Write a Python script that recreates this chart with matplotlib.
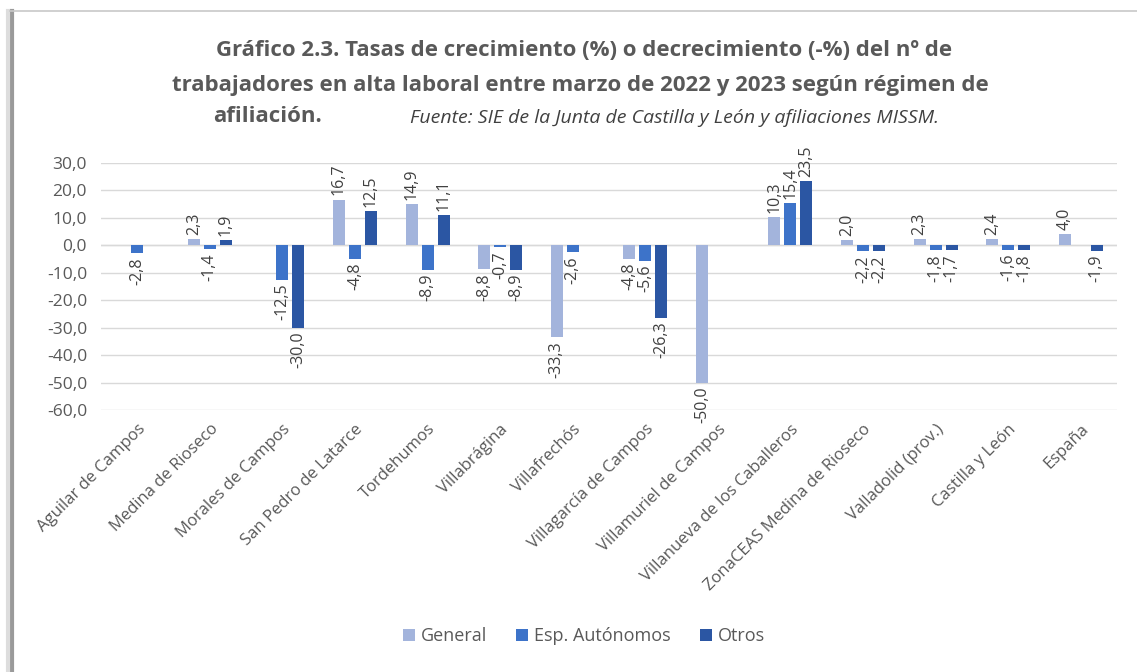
import numpy as np
import matplotlib
matplotlib.use("Agg")
import matplotlib.pyplot as plt
from matplotlib.lines import Line2D
from matplotlib.patches import Patch

categories = ["Aguilar de Campos", "Medina de Rioseco", "Morales de Campos",
              "San Pedro de Latarce", "Tordehumos", "Villabrágina", "Villafrechós",
              "Villagarcía de Campos", "Villamuriel de Campos",
              "Villanueva de los Caballeros", "ZonaCEAS Medina de Rioseco",
              "Valladolid (prov.)", "Castilla y León", "España"]
general = [np.nan, 2.3, np.nan, 16.7, 14.9, -8.8, -33.3, -4.8, -50.0, 10.3, 2.0, 2.3, 2.4, 4.0]
autonomos = [-2.8, -1.4, -12.5, -4.8, -8.9, -0.7, -2.6, -5.6, np.nan, 15.4, -2.2, -1.8, -1.6, np.nan]
otros = [np.nan, 1.9, -30.0, 12.5, 11.1, -8.9, np.nan, -26.3, np.nan, 23.5, -2.2, -1.7, -1.8, -1.9]
series_names = ["General", "Esp. Autónomos", "Otros"]
yticks = [30, 20, 10, 0, -10, -20, -30, -40, -50, -60]

colors = ["#A3B4DC", "#3D73C9", "#2B56A3"]
plt.rcParams['font.family'] = ['Open Sans', 'DejaVu Sans']

W, H = 1137, 672
fig = plt.figure(figsize=(W / 100, H / 100), dpi=100)
fig.patch.set_facecolor("white")

# frame / shadow
fig.add_artist(Line2D([11.5 / W, 11.5 / W], [0, 1 - 11 / H], color="#9a9a9a", lw=3.0))
fig.add_artist(Line2D([7.5 / W, 7.5 / W], [0, 1 - 11 / H], color="#dddddd", lw=3.0))
fig.add_artist(Line2D([10 / W, 1], [1 - 11 / H, 1 - 11 / H], color="#c8c8c8", lw=1.2))

ax = fig.add_axes([101 / W, 1 - 410 / H, 1016 / W, 247 / H])
x = np.arange(len(categories))
off = 0.22
bw = 0.165
data = [general, autonomos, otros]
for i, (vals, c) in enumerate(zip(data, colors)):
    xs = x + (i - 1) * off
    ax.bar(xs, vals, width=bw, color=c, zorder=3)
    for xi, v in zip(xs, vals):
        if np.isnan(v):
            continue
        s = f"{v:.1f}".replace(".", ",")
        if v >= 0:
            ax.annotate(s, (xi, v), xytext=(0, 3), textcoords="offset points",
                        rotation=90, ha="center", va="bottom", fontsize=11.5,
                        color="#404040", annotation_clip=False)
        else:
            ax.annotate(s, (xi, v), xytext=(0, -3), textcoords="offset points",
                        rotation=90, ha="center", va="top", fontsize=11.5,
                        color="#404040", annotation_clip=False)

ax.set_xlim(-0.5, len(categories) - 0.5)
ax.set_ylim(-60, 30)
ax.set_yticks(yticks)
ax.set_yticklabels([f"{t:.1f}".replace(".", ",") for t in yticks], fontsize=12.5, color="#595959")
ax.yaxis.grid(True, color="#d9d9d9", lw=1.0, zorder=0)
ax.set_axisbelow(True)
for sp in ax.spines.values():
    sp.set_visible(False)
ax.tick_params(axis="y", length=0, pad=10)
ax.tick_params(axis="x", length=0, pad=8)
ax.set_xticks(x)
ax.set_xticklabels(categories, rotation=45, ha="right", rotation_mode="anchor",
                   fontsize=12, color="#595959")
ax.axhline(0, color="#d9d9d9", lw=1.0, zorder=1)

# titles
fig.text(584 / W, 1 - 51 / H, "Gráfico 2.3. Tasas de crecimiento (%) o decrecimiento (-%) del nº de",
         ha="center", va="center", fontsize=16, fontweight="bold", color="#595959")
fig.text(580 / W, 1 - 85 / H, "trabajadores en alta laboral entre marzo de 2022 y 2023 según régimen de",
         ha="center", va="center", fontsize=16, fontweight="bold", color="#595959")
fig.text(213 / W, 1 - 117 / H, "afiliación.", ha="left", va="center", fontsize=16,
         fontweight="bold", color="#595959")
fig.text(410 / W, 1 - 118 / H, "Fuente: SIE de la Junta de Castilla y León y afiliaciones MISSM.",
         ha="left", va="center", fontsize=14, fontstyle="italic", color="#404040")

handles = [Patch(facecolor=c, edgecolor="none") for c in colors]
fig.legend(handles, series_names, loc="center", bbox_to_anchor=(584 / W, 1 - 636 / H),
           ncol=3, frameon=False, fontsize=13, handlelength=0.65, handleheight=0.65,
           handletextpad=0.35, columnspacing=1.6, labelcolor="#595959")

fig.savefig("out.png", dpi=100, facecolor="white")
